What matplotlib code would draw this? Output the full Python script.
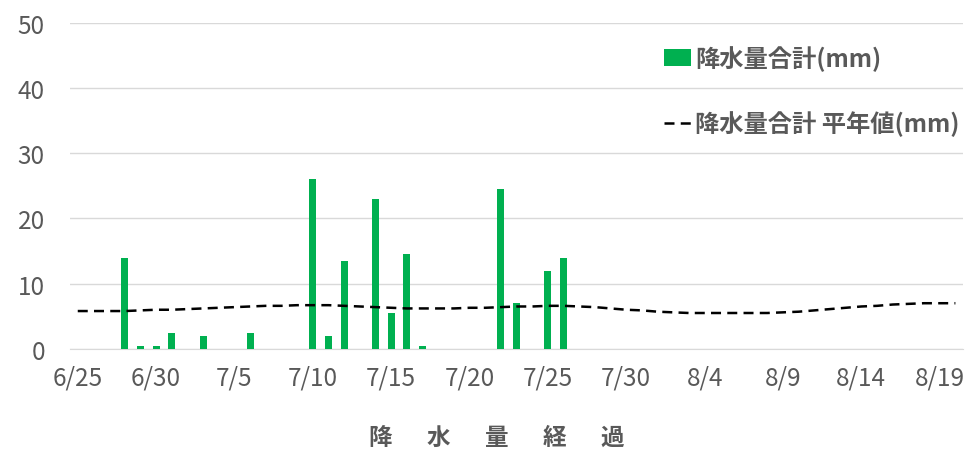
import matplotlib.pyplot as plt
import numpy as np
import pandas as pd

plt.rcParams['font.family'] = ['Noto Sans CJK JP', 'DejaVu Sans']

# 6/25 .. 8/20
dates = pd.date_range('2023-06-25', '2023-08-20', freq='D')
labels = [f'{d.month}/{d.day}' for d in dates]

rain = [0, 0, 0, 14, 0.5, 0.5, 2.5, 0, 2.0, 0,
        0, 2.5, 0, 0, 0, 26, 2.0, 13.5, 0, 23,
        5.5, 14.5, 0.5, 0, 0, 0, 0, 24.5, 7.0, 0,
        12.0, 14.0, 0, 0, 0, 0, 0, 0, 0, 0,
        0, 0, 0, 0, 0, 0, 0, 0, 0, 0,
        0, 0, 0, 0, 0, 0, 0]
normal = [5.8, 5.8, 5.8, 5.8, 5.9, 6.0, 6.0, 6.1, 6.2, 6.3,
          6.4, 6.5, 6.6, 6.6, 6.7, 6.7, 6.7, 6.6, 6.5, 6.4,
          6.3, 6.2, 6.2, 6.2, 6.2, 6.3, 6.3, 6.4, 6.5, 6.5,
          6.6, 6.6, 6.5, 6.4, 6.2, 6.0, 5.9, 5.7, 5.6, 5.5,
          5.5, 5.5, 5.5, 5.5, 5.5, 5.6, 5.7, 5.9, 6.1, 6.3,
          6.5, 6.6, 6.8, 6.9, 7.0, 7.0, 7.0]

gray = '#595959'
x = np.arange(len(labels))

fig = plt.figure(figsize=(9.71, 4.52), dpi=100)
ax = fig.add_axes([0.072, 0.226, 0.92, 0.721])

bars = ax.bar(x, rain, width=0.45, color='#00b050', zorder=3)
line, = ax.plot(x, normal, color='black', lw=1.8, linestyle=(0, (4, 2.5)), zorder=4)

ax.set_xlim(-0.5, 56.5)
ax.set_ylim(0, 50)
ax.set_yticks(range(0, 51, 10))
ax.set_xticks(x[::5])
ax.set_xticklabels(labels[::5])
ax.grid(axis='y', color='#d9d9d9', lw=1, zorder=0)
for s in ['top', 'right', 'left']:
    ax.spines[s].set_visible(False)
ax.spines['bottom'].set_color('#d9d9d9')
ax.tick_params(length=0, labelsize=17.5, colors=gray)
ax.tick_params(axis='x', pad=11)
ax.tick_params(axis='y', pad=18)

ax.set_xlabel('降　  水　  量　  経　  過', fontsize=17, fontweight='bold',
              color=gray, labelpad=25)
ax.xaxis.label.set_x(0.478)

leg = ax.legend([bars, line], ['降水量合計(mm)', '降水量合計 平年値(mm)'],
                loc='upper left', bbox_to_anchor=(0.64, 1.0), frameon=False,
                labelspacing=1.65, handlelength=1.15, handletextpad=0.15,
                prop={'weight': 'bold', 'size': 17.5})
for t in leg.get_texts():
    t.set_color(gray)

fig.savefig('out.png', dpi=100)
